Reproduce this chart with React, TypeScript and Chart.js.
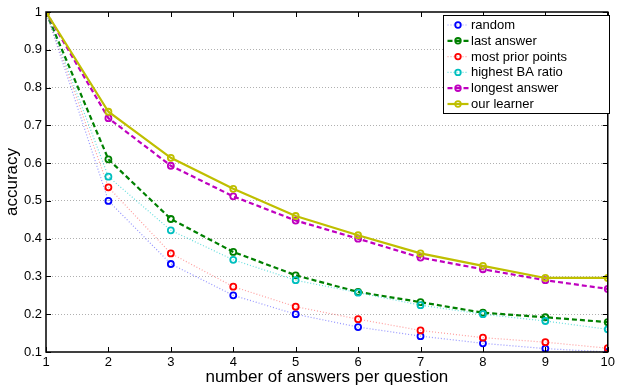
import React, { useEffect, useRef } from "react";
import { Chart, registerables } from "chart.js";

Chart.register(...registerables);

const xValues = [1, 2, 3, 4, 5, 6, 7, 8, 9, 10];
const randomAcc = [1, 0.5, 0.333, 0.25, 0.2, 0.166, 0.142, 0.123, 0.109, 0.1];
const lastAnswerAcc = [1, 0.61, 0.452, 0.365, 0.303, 0.259, 0.232, 0.204, 0.192, 0.179];
const mostPriorAcc = [1, 0.536, 0.361, 0.273, 0.22, 0.187, 0.157, 0.138, 0.126, 0.11];
const highestBAAcc = [1, 0.564, 0.422, 0.344, 0.29, 0.257, 0.224, 0.2, 0.182, 0.16];
const longestAcc = [1, 0.719, 0.593, 0.512, 0.448, 0.4, 0.35, 0.319, 0.29, 0.267];
const learnerAcc = [1, 0.736, 0.614, 0.532, 0.46, 0.409, 0.361, 0.328, 0.296, 0.296];

const seriesNames = ["random", "last answer", "most prior points", "highest BA ratio", "longest answer", "our learner"];
const yTickValues = [0.1, 0.2, 0.3, 0.4, 0.5, 0.6, 0.7, 0.8, 0.9, 1];

const FONT = "'Liberation Sans', Arial, Helvetica, sans-serif";

type Style = { color: string; line: string; dash: number[]; width: number };
const styles: Style[] = [
  { color: "rgb(0,0,255)", line: "rgba(80,80,255,0.6)", dash: [1, 2], width: 1.2 },
  { color: "rgb(0,128,0)", line: "rgb(0,128,0)", dash: [5, 3], width: 2.2 },
  { color: "rgb(255,0,0)", line: "rgba(255,80,80,0.55)", dash: [1, 2], width: 1.2 },
  { color: "rgb(0,191,191)", line: "rgba(0,200,200,0.6)", dash: [1, 2], width: 1.2 },
  { color: "rgb(191,0,191)", line: "rgb(191,0,191)", dash: [5, 3], width: 2.2 },
  { color: "rgb(191,191,0)", line: "rgb(191,191,0)", dash: [], width: 2.2 },
];

const seriesData = [randomAcc, lastAnswerAcc, mostPriorAcc, highestBAAcc, longestAcc, learnerAcc];

const framePlugin = {
  id: "frame",
  afterDatasetsDraw(chart: any) {
    const { ctx, chartArea } = chart;
    const { left, right, top, bottom } = chartArea;
    const xs = chart.scales.x;
    const ys = chart.scales.y;
    ctx.save();
    ctx.strokeStyle = "#000";
    ctx.lineWidth = 1;
    ctx.setLineDash([]);
    ctx.beginPath();
    const tl = 5;
    for (const v of xValues) {
      const px = Math.round(xs.getPixelForValue(v)) + 0.5;
      ctx.moveTo(px, bottom);
      ctx.lineTo(px, bottom - tl);
      ctx.moveTo(px, top);
      ctx.lineTo(px, top + tl);
    }
    for (const v of yTickValues) {
      const py = Math.round(ys.getPixelForValue(v)) + 0.5;
      ctx.moveTo(left, py);
      ctx.lineTo(left + tl, py);
      ctx.moveTo(right, py);
      ctx.lineTo(right - tl, py);
    }
    ctx.stroke();
    ctx.lineWidth = 1.5;
    ctx.strokeRect(left, top, right - left, bottom - top);
    ctx.restore();

    // legend box
    const bx = 443.5, by = 15.5, bw = 166, bh = 98;
    ctx.save();
    ctx.fillStyle = "#fff";
    ctx.fillRect(bx, by, bw, bh);
    ctx.strokeStyle = "#000";
    ctx.lineWidth = 1;
    ctx.strokeRect(bx, by, bw, bh);
    const rowY0 = 25, rowStep = 15.8;
    ctx.font = `13px ${FONT}`;
    ctx.textBaseline = "middle";
    seriesNames.forEach((name, i) => {
      const s = styles[i];
      const y = rowY0 + i * rowStep;
      ctx.strokeStyle = s.line;
      ctx.lineWidth = s.width;
      ctx.setLineDash(s.dash);
      ctx.beginPath();
      ctx.moveTo(447.5, y);
      ctx.lineTo(468.5, y);
      ctx.stroke();
      ctx.setLineDash([]);
      ctx.strokeStyle = s.color;
      ctx.lineWidth = 1.8;
      ctx.beginPath();
      ctx.arc(458, y, 2.8, 0, Math.PI * 2);
      ctx.stroke();
      ctx.fillStyle = "#000";
      ctx.fillText(name, 471, y + 0.5);
    });
    ctx.restore();
  },
};

export default function App() {
  const ref = useRef<HTMLCanvasElement | null>(null);
  useEffect(() => {
    document.body.style.margin = "0";
    const canvas = ref.current;
    if (!canvas) return;
    const datasets = seriesNames.map((name, i) => ({
      label: name,
      data: xValues.map((x, j) => ({ x, y: seriesData[i][j] })),
      borderColor: styles[i].line,
      borderDash: styles[i].dash,
      borderWidth: styles[i].width,
      pointBorderColor: styles[i].color,
      pointBackgroundColor: "rgba(0,0,0,0)",
      pointRadius: 3,
      pointBorderWidth: 1.8,
      pointHoverRadius: 3,
      tension: 0,
      fill: false,
      order: 5 - i,
    }));
    const chart = new Chart(canvas, {
      type: "line",
      data: { datasets },
      plugins: [framePlugin],
      options: {
        animation: false,
        responsive: false,
        maintainAspectRatio: false,
        layout: { padding: { top: 12, right: 5, left: 0, bottom: 0 } },
        plugins: { legend: { display: false }, tooltip: { enabled: false } },
        scales: {
          x: {
            type: "linear",
            min: 1,
            max: 10,
            afterFit: (s: any) => { s.height = 36; },
            afterBuildTicks: (s: any) => { s.ticks = xValues.map((v) => ({ value: v })); },
            ticks: {
              color: "#000",
              font: { family: FONT, size: 13 },
              padding: 3,
              maxRotation: 0,
              autoSkip: false,
              callback: (v: any) => String(v),
            },
            grid: { display: false, drawTicks: false },
            border: { display: false },
            title: {
              display: true,
              text: "number of answers per question",
              color: "#000",
              font: { family: FONT, size: 17 },
              padding: { top: 0, bottom: 0 },
            },
          },
          y: {
            type: "linear",
            min: 0.1,
            max: 1,
            afterFit: (s: any) => { s.width = 46; },
            afterBuildTicks: (s: any) => { s.ticks = yTickValues.map((v) => ({ value: v })); },
            ticks: {
              color: "#000",
              font: { family: FONT, size: 13 },
              padding: 4,
              autoSkip: false,
              callback: (v: any) => String(Number(Number(v).toFixed(1))),
            },
            grid: {
              drawTicks: false,
              color: (c: any) => (c.tick && (c.tick.value <= 0.11 || c.tick.value >= 0.99) ? "rgba(0,0,0,0)" : "#b0b0b0"),
              lineWidth: 1,
            },
            border: { display: false, dash: [1, 2] },
            title: {
              display: true,
              text: "accuracy",
              color: "#000",
              font: { family: FONT, size: 17 },
              padding: { top: 2, bottom: 0 },
            },
          },
        },
      },
    });
    return () => chart.destroy();
  }, []);
  return (
    <div style={{ position: "absolute", left: 0, top: 0, width: 618, height: 388, background: "#fff" }}>
      <canvas ref={ref} width={618} height={388} style={{ width: 618, height: 388 }} />
    </div>
  );
}
